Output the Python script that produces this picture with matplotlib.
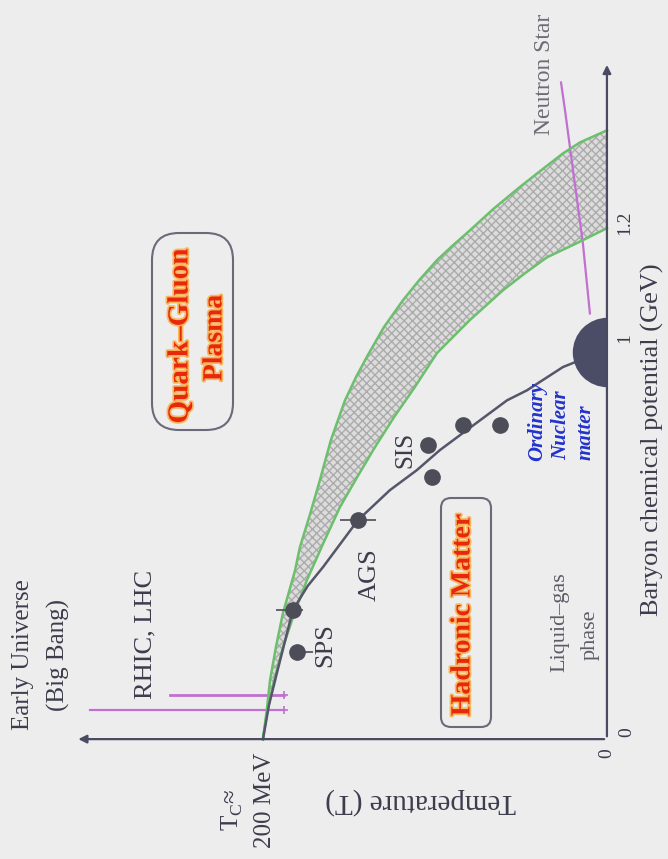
import numpy as np
import matplotlib
matplotlib.use("Agg")
import matplotlib.pyplot as plt
from matplotlib.patches import FancyBboxPatch
from matplotlib.transforms import IdentityTransform
import matplotlib.patheffects as pe

# phase boundary band (T in MeV, mu_B in GeV)
outer_T = [200.0, 197.7, 195.9, 192.4, 188.4, 181.4, 178.5, 172.7, 166.9, 160.5, 152.3, 145.9, 139.0,
           129.7, 118.6, 109.3, 98.8, 89.5, 79.7, 65.7, 50.6, 38.4, 25.6, 15.7, 0.0]
outer_mu = [0.0, 0.075, 0.147, 0.231, 0.314, 0.420, 0.479, 0.560, 0.646, 0.746, 0.845, 0.903, 0.958,
            1.020, 1.069, 1.105, 1.142, 1.169, 1.196, 1.236, 1.275, 1.305, 1.336, 1.356, 1.378]
inner_T = [200.0, 197.7, 193.6, 188.4, 181.9, 174.4, 165.1, 155.2, 145.3, 134.9, 123.8, 112.2,
           98.8, 79.7, 60.5, 47.7, 34.9, 17.4, 0.0]
inner_mu = [0.0, 0.065, 0.145, 0.229, 0.312, 0.397, 0.487, 0.579, 0.653, 0.728, 0.803, 0.875,
            0.963, 1.033, 1.087, 1.118, 1.147, 1.173, 1.2]

# chemical freeze-out curve
freeze_T = [200.0, 196.5, 191.9, 182.6, 174.0, 165.1, 144.8, 126.2, 110.5, 97.1, 81.4, 58.1, 46.5, 25.6, 10.0]
freeze_mu = [0.0, 0.085, 0.165, 0.322, 0.382, 0.429, 0.546, 0.621, 0.671, 0.721, 0.771, 0.845, 0.870, 0.928, 0.955]

# experiments
sps_T = [182.6, 180.2]
sps_mu = [0.322, 0.217]
sps_err = [[6, 9], [10, 0]]
ags_T = [144.8]
ags_mu = [0.546]
ags_err = [10.5]
sis_T = [104.1, 101.7, 83.7, 62.2]
sis_mu = [0.733, 0.653, 0.783, 0.783]

nuclear_mu = 0.965

# trajectories from the left and the neutron star pointer
rhic_T = [254.0, 188.0]
rhic_mu = [0.110, 0.110]
bigbang_T = [300.6, 188.0]
bigbang_mu = [0.072, 0.072]
nstar_T = [26.7, 24.4, 21.5, 14.0, 9.9]
nstar_mu = [1.465, 1.415, 1.347, 1.173, 1.045]

T_axis_end = 309
mu_axis_end = 1.502


def fwd(m):
    m = np.asarray(m, dtype=float)
    return np.where(m <= 1, m * 401.0, 401.0 + (m - 1) * 550.0)


def inv(p):
    p = np.asarray(p, dtype=float)
    return np.where(p <= 401.0, p / 401.0, 1 + (p - 401.0) / 550.0)


W, H = 668, 859
bg = "#ededee"
serif = ["Liberation Serif", "DejaVu Serif"]

fig = plt.figure(figsize=(W / 100, H / 100), dpi=100)
fig.patch.set_facecolor(bg)
ax = fig.add_axes([0, 0, 1, 1])
ax.set_facecolor(bg)
ax.set_yscale("function", functions=(fwd, inv))
ax.set_xlim(352.9, -35.5)
ax.set_ylim(-0.299, 1.615)
ax.axis("off")

# hatched band between the two boundaries
band_T = outer_T + inner_T[::-1]
band_mu = outer_mu + inner_mu[::-1]
ax.fill(band_T, band_mu, facecolor="#dcdcdc", edgecolor="#ababab", hatch="xxxx", lw=0, zorder=1)
ax.plot(outer_T, outer_mu, color="#6cbf6c", lw=1.8, zorder=3)
ax.plot(inner_T, inner_mu, color="#6cbf6c", lw=1.8, zorder=3)

ax.plot(freeze_T, freeze_mu, color="#55566a", lw=1.8, zorder=4)

dot = "#4c4d58"
ax.errorbar(sps_T, sps_mu, xerr=sps_err, fmt="o", color=dot, ms=11, elinewidth=1.2, capsize=0, zorder=5)
ax.errorbar(ags_T, ags_mu, xerr=ags_err, fmt="o", color=dot, ms=11, elinewidth=1.2, capsize=0, zorder=5)
ax.plot(sis_T, sis_mu, "o", color=dot, ms=11, zorder=5)

# nuclear matter blob sitting on the mu axis
ax.plot([0], [nuclear_mu], marker="o", ms=50, fillstyle="left", color="#4b4d66", mew=0, zorder=6)

mag = "#c070d0"
ax.plot(rhic_T, rhic_mu, color=mag, lw=2, zorder=2)
ax.plot(bigbang_T, bigbang_mu, color=mag, lw=1.6, zorder=2)
ax.plot([rhic_T[-1], bigbang_T[-1]], [rhic_mu[-1], bigbang_mu[-1]], "+", color=mag, ms=6, mew=1.2)
ax.plot(nstar_T, nstar_mu, color=mag, lw=1.6, zorder=2)

# axes with arrows
axis_col = "#4a4a60"
ax.annotate("", xy=(T_axis_end, 0), xytext=(0, 0),
            arrowprops=dict(arrowstyle="-|>", color=axis_col, lw=1.6, mutation_scale=12), zorder=7)
ax.annotate("", xy=(0, mu_axis_end), xytext=(0, 0),
            arrowprops=dict(arrowstyle="-|>", color=axis_col, lw=1.6, mutation_scale=12), zorder=7)


def px(x, y):
    return x / W, 1 - y / H


def label(x, y, s, rot=90, size=15, color="#3c3c4c", **kw):
    fig.text(*px(x, y), s, rotation=rot, ha="center", va="center",
             fontsize=size, color=color, family=serif, **kw)


# tick labels
label(627, 732, "0", size=14)
label(607, 753, "0", size=14)
label(625, 338, "1", size=14)
label(625, 223, "1.2", size=14)

label(652, 440, "Baryon chemical potential (GeV)", size=19)
label(421, 801, "Temperature (T)", rot=180, size=21)

label(23, 655, "Early Universe", size=18)
label(58, 655, "(Big Bang)", size=18)
label(145, 634, "RHIC, LHC", size=19)
label(232, 810, r"T$_\mathregular{C}$≈", size=18)
label(265, 800, "200 MeV", size=18)
label(325, 645, "SPS", size=19)
label(370, 575, "AGS", size=19)
label(405, 450, "SIS", size=18)
label(545, 74, "Neutron Star", size=17, color="#6c6c74")
label(560, 622, "Liquid–gas", size=16, color="#5c5c66")
label(590, 635, "phase", size=16, color="#5c5c66")

blue = "#2233cc"
label(537, 421, "Ordinary", size=15, color=blue, style="italic", weight="bold")
label(561, 425, "Nuclear", size=15, color=blue, style="italic", weight="bold")
label(586, 432, "matter", size=15, color=blue, style="italic", weight="bold")

# rounded boxes with the phase names
for (x0, y0, w, h, r) in [(152, 233, 81, 197, 27), (441, 498, 50, 229, 10)]:
    fig.patches.append(FancyBboxPatch((x0, H - y0 - h), w, h,
                                      boxstyle=f"round,pad=0,rounding_size={r}",
                                      transform=IdentityTransform(), fc="none",
                                      ec="#6a6a7a", lw=1.5, figure=fig))

glow = [pe.withStroke(linewidth=2.5, foreground="#f8b860")]
label(180, 336, "Quark–Gluon", size=21, color="#e8280c", weight="bold", path_effects=glow)
label(215, 338, "Plasma", size=20, color="#e8280c", weight="bold", path_effects=glow)
label(463, 615, "Hadronic Matter", size=20, color="#e8280c", weight="bold", path_effects=glow)

fig.savefig("out.png", dpi=100, facecolor=bg)
